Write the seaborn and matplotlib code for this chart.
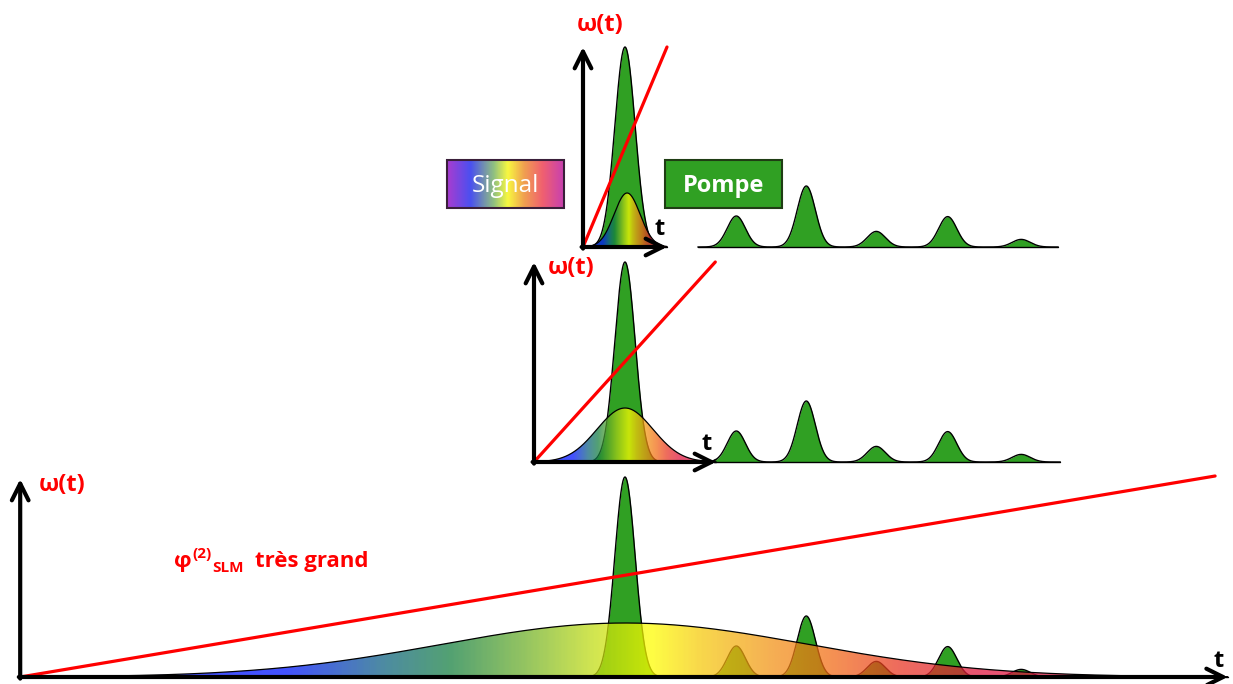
import numpy as np
import matplotlib
matplotlib.use("Agg")
import matplotlib.pyplot as plt
from matplotlib.colors import LinearSegmentedColormap
from matplotlib.patches import PathPatch, Rectangle
from matplotlib.path import Path
import seaborn as sns

# ------------------------------------------------------------------ data
# time unit: one pump-train period (~70 px in the reference), t = 0 at the main pump pulse
pump_times = [0.0, 1.59, 2.59, 3.59, 4.61, 5.66]
pump_amps = [1.0, 0.155, 0.305, 0.078, 0.152, 0.038]
pump_widths = [0.145, 0.13, 0.13, 0.13, 0.13, 0.13]

# three panels: top (short signal), middle, bottom (phi2_SLM very large)
signal_centres = [0.03, 0.0, 0.0]
signal_sigmas = [0.186, 0.40, 2.61]
signal_amps = [0.27, 0.27, 0.27]
axis_origin_t = [-0.60, -1.30, -8.64]
axis_end_t = [0.60, 1.30, 8.61]
axis_top_w = [1.0, 1.0, 0.99]
chirp_end_t = [0.60, 1.29, 8.43]
chirp_end_w = [1.0, 1.0, 1.005]
train_start_t = [1.04, 1.27, None]
train_end_t = [6.19, 6.22, None]

axis_labels = ["ω(t)", "ω(t)", "ω(t)"]
time_label = "t"
box_labels = ["Signal", "Pompe"]
chirp_text = ["φ", "(2)", "SLM", "très grand"]

# colour of the chirped signal versus (t - centre)/sigma
signal_stops_u = [-2.2, -1.87, -1.32, -0.96, -0.59, -0.23, 0.14, 0.41, 0.78, 1.14, 1.5, 1.96, 2.2]
signal_stops_c = ["#0014ff", "#0014ff", "#0e6380", "#168040", "#66ab2b", "#b6d616", "#ffff00",
                  "#f6cb0b", "#f29616", "#f26b16", "#e83823", "#e01640", "#e01640"]
box_stops_c = ["#a83cd0", "#4a50f0", "#90c080", "#f8f840", "#f0a050", "#f06070", "#c840b0"]
box_stops_p = [0.0, 0.2, 0.4, 0.52, 0.66, 0.82, 1.0]

PUMP_GREEN = "#30a023"
RED = "#ff0000"

# ------------------------------------------------------------------ style
sns.set_theme(style="white")
plt.rcParams["font.family"] = ["Open Sans", "DejaVu Sans"]

W, H = 1233, 684
fig = plt.figure(figsize=(W / 100, H / 100), dpi=100)

PX_PER_T = 70.0
X0_PX = 625.0
PX_PER_W = 200.0
baselines_px = [247, 462, 677]
xlim = ((0 - X0_PX) / PX_PER_T, (W - X0_PX) / PX_PER_T)

umin, umax = signal_stops_u[0], signal_stops_u[-1]
sig_cmap = LinearSegmentedColormap.from_list(
    "chirp", [((u - umin) / (umax - umin), c) for u, c in zip(signal_stops_u, signal_stops_c)])
box_cmap = LinearSegmentedColormap.from_list("rainbow_box", list(zip(box_stops_p, box_stops_c)))


def pump(t):
    t = np.asarray(t, dtype=float)
    out = np.zeros_like(t)
    for c, a, w in zip(pump_times, pump_amps, pump_widths):
        out += a * np.exp(-0.5 * ((t - c) / w) ** 2)
    return out


def draw_pump(ax, t0, t1):
    ts = np.linspace(t0, t1, 3000)
    ys = pump(ts)
    ax.fill_between(ts, 0, ys, color=PUMP_GREEN, lw=0, zorder=2)
    sns.lineplot(x=ts, y=ys, ax=ax, color="black", linewidth=1.0, zorder=2.2)
    ax.plot([t0, t1], [0, 0], color="black", lw=1.0, zorder=2.2)


ylo, yhi = -0.12, 1.08
for i, b in enumerate(baselines_px):
    bottom_px = b - ylo * PX_PER_W
    height_px = (yhi - ylo) * PX_PER_W
    ax = fig.add_axes([0, 1 - bottom_px / H, 1, height_px / H])
    ax.patch.set_alpha(0)

    # pump pulses
    draw_pump(ax, axis_origin_t[i], axis_end_t[i])
    if train_start_t[i] is not None:
        draw_pump(ax, train_start_t[i], train_end_t[i])

    # chirped signal with colour gradient
    c, s, a = signal_centres[i], signal_sigmas[i], signal_amps[i]
    t0 = max(c - 4.2 * s, axis_origin_t[i])
    t1 = min(c + 4.2 * s, axis_end_t[i])
    ts = np.linspace(t0, t1, 2000)
    ys = a * np.exp(-0.5 * ((ts - c) / s) ** 2)
    verts = np.vstack([np.column_stack([ts, ys]), [[t1, 0], [t0, 0], [t0, ys[0]]]])
    clip = PathPatch(Path(verts), transform=ax.transData, facecolor="none", edgecolor="none")
    ax.add_patch(clip)
    grad_t = np.linspace(t0, t1, 600)
    grad_u = (grad_t - c) / s
    im = ax.imshow(grad_u[None, :], extent=[t0, t1, 0, a * 1.05], cmap=sig_cmap,
                   vmin=umin, vmax=umax, aspect="auto", alpha=0.74,
                   interpolation="bilinear", zorder=3, origin="lower")
    im.set_clip_path(clip)
    sns.lineplot(x=ts, y=ys, ax=ax, color="black", linewidth=0.9, zorder=3.5)

    # chirp line omega(t)
    sns.lineplot(x=[axis_origin_t[i], chirp_end_t[i]], y=[0, chirp_end_w[i]], ax=ax,
                 color=RED, linewidth=2.3, zorder=4)

    # axis arrows
    arrow = dict(arrowstyle="->,head_length=1.2,head_width=0.6", lw=3.0, color="black",
                 mutation_scale=10, shrinkA=0, shrinkB=0)
    ax.annotate("", xy=(axis_origin_t[i], axis_top_w[i]), xytext=(axis_origin_t[i], -0.008),
                arrowprops=arrow, zorder=5)
    ax.annotate("", xy=(axis_end_t[i], 0), xytext=(axis_origin_t[i] - 0.02, 0),
                arrowprops=arrow, zorder=5)

    ax.set_xlim(xlim)
    ax.set_ylim(ylo, yhi)
    ax.axis("off")

# ------------------------------------------------------------------ overlay (labels, boxes)
ov = fig.add_axes([0, 0, 1, 1])
ov.patch.set_alpha(0)
ov.set_zorder(10)

omega_pos = [(600, 25), (571, 268), (62, 485)]
t_pos = [(660, 229), (707, 444), (1219, 661)]
for lab, (x, y) in zip(axis_labels, omega_pos):
    ov.text(x, y, lab, color=RED, fontsize=17, fontweight="bold", ha="center", va="center")
for (x, y) in t_pos:
    ov.text(x, y, time_label, color="black", fontsize=17, fontweight="bold", ha="center", va="center")

# phi^(2)_SLM très grand
ov.text(174, 567, chirp_text[0], color=RED, fontsize=16, fontweight="bold", ha="left", va="baseline")
ov.text(192, 558, chirp_text[1], color=RED, fontsize=11, fontweight="bold", ha="left", va="baseline")
ov.text(212, 572, chirp_text[2], color=RED, fontsize=11, fontweight="bold", ha="left", va="baseline")
ov.text(255, 567, chirp_text[3], color=RED, fontsize=16, fontweight="bold", ha="left", va="baseline")

# Signal box
bx0, bx1, by0, by1 = 447, 564, 160, 208
ov.imshow(np.linspace(0, 1, 300)[None, :], extent=[bx0, bx1, by1, by0], cmap=box_cmap,
          aspect="auto", interpolation="bilinear", zorder=1)
ov.add_patch(Rectangle((bx0, by0), bx1 - bx0, by1 - by0, fill=False, edgecolor="#3a1f3a",
                       lw=1.5, zorder=2))
ov.text((bx0 + bx1) / 2, 192, box_labels[0], color="white", fontsize=17.5, ha="center",
        va="baseline", zorder=3)

# Pompe box
px0, px1 = 665, 782
ov.add_patch(Rectangle((px0, by0), px1 - px0, by1 - by0, facecolor=PUMP_GREEN,
                       edgecolor="#1f3d14", lw=1.5, zorder=2))
ov.text((px0 + px1) / 2, 192, box_labels[1], color="white", fontsize=17, fontweight="bold",
        ha="center", va="baseline", zorder=3)

ov.set_xlim(0, W)
ov.set_ylim(H, 0)
ov.axis("off")

fig.savefig("out.png", dpi=100)
